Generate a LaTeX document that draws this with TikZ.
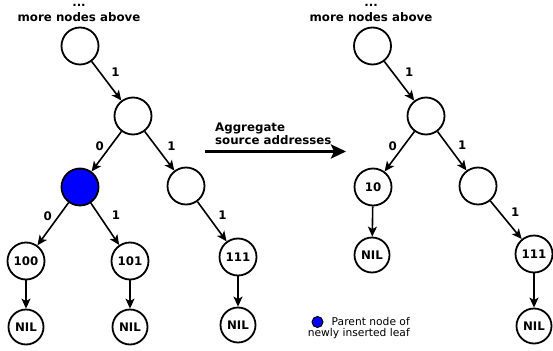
\documentclass[tikz,border=0pt]{standalone}
\usepackage{fontspec}
\setmainfont{DejaVu Sans}
\usetikzlibrary{arrows.meta}
\begin{document}
\begin{tikzpicture}[x=1pt,y=-1pt,
    every node/.style={font=\fontsize{11.8}{13}\selectfont\bfseries},
    knot/.style={draw, circle, line width=1.8pt, minimum size=37pt, inner sep=0pt},
    nilknot/.style={knot, minimum size=35pt},
    link/.style={line width=1.6pt, -{Stealth[length=10pt,width=9pt,inset=2.5pt]}},
    bit/.style={inner sep=1pt}]
  \useasboundingbox (0,0) rectangle (553,350);
  \node[inner sep=0pt, anchor=base] (ldots) at (79,6.7) {...};
  \node (lmore) at (79,17) {more nodes above};
  \node[knot] (la) at (80,46) {};
  \node[knot] (lb) at (133,116) {};
  \node[knot, fill=blue] (lc) at (80,187) {};
  \node[knot] (ld) at (186,186) {};
  \node[knot] (l100) at (26,261) {100};
  \node[knot] (l101) at (130,261) {101};
  \node[knot] (l111) at (238,257) {111};
  \node[nilknot] (lnil1) at (26,327) {NIL};
  \node[nilknot] (lnil2) at (130,327) {NIL};
  \node[nilknot] (lnil3) at (238,325) {NIL};
  \draw[link] (la) -- node[bit, pos=.27, right=10pt] {1} (lb);
  \draw[link] (lb) -- node[bit, pos=.36, left=5pt] {0} (lc);
  \draw[link] (lb) -- node[bit, pos=.37, right=10pt] {1} (ld);
  \draw[link] (lc) -- node[bit, pos=.32, left=5pt] {0} (l100);
  \draw[link] (lc) -- node[bit, pos=.29, right=11pt] {1} (l101);
  \draw[link] (ld) -- node[bit, pos=.35, right=9pt] {1} (l111);
  \draw[link] (l100) -- (lnil1);
  \draw[link] (l101) -- (lnil2);
  \draw[link] (l111) -- (lnil3);
  \coordinate (aggfrom) at (205,151.5);
  \coordinate (aggto) at (346,151.5);
  \draw[line width=3pt, -{Stealth[length=15pt,width=14pt,inset=3pt]}] (aggfrom) -- (aggto);
  \node[anchor=west, align=left, inner sep=0pt] (aggtxt) at (215,134) {Aggregate\\source addresses};
  \node[inner sep=0pt, anchor=base] (rdots) at (371,6.7) {...};
  \node (rmore) at (371,17) {more nodes above};
  \node[knot] (ra) at (372.5,46) {};
  \node[knot] (rb) at (426,116) {};
  \node[knot] (r10) at (373,187) {10};
  \node[knot] (rd) at (478,186) {};
  \node[nilknot] (rnil1) at (372,255) {NIL};
  \node[knot] (r111) at (534,254) {111};
  \node[nilknot] (rnil2) at (534,326) {NIL};
  \draw[link] (ra) -- node[bit, pos=.27, right=11pt] {1} (rb);
  \draw[link] (rb) -- node[bit, pos=.36, left=5pt] {0} (r10);
  \draw[link] (rb) -- node[bit, pos=.34, right=9pt] {1} (rd);
  \draw[link] (r10) -- (rnil1);
  \draw[link] (rd) -- node[bit, pos=.29, right=10pt] {1} (r111);
  \draw[link] (r111) -- (rnil2);
  \node[draw, circle, fill=blue, line width=1pt, minimum size=11pt, inner sep=0pt] (keydot) at (317.5,322) {};
  \node[anchor=east, align=right, inner sep=0pt, font=\fontsize{10.7}{11.5}\selectfont] (keytxt) at (410,328) {Parent node of\\newly inserted leaf};
\end{tikzpicture}
\end{document}
